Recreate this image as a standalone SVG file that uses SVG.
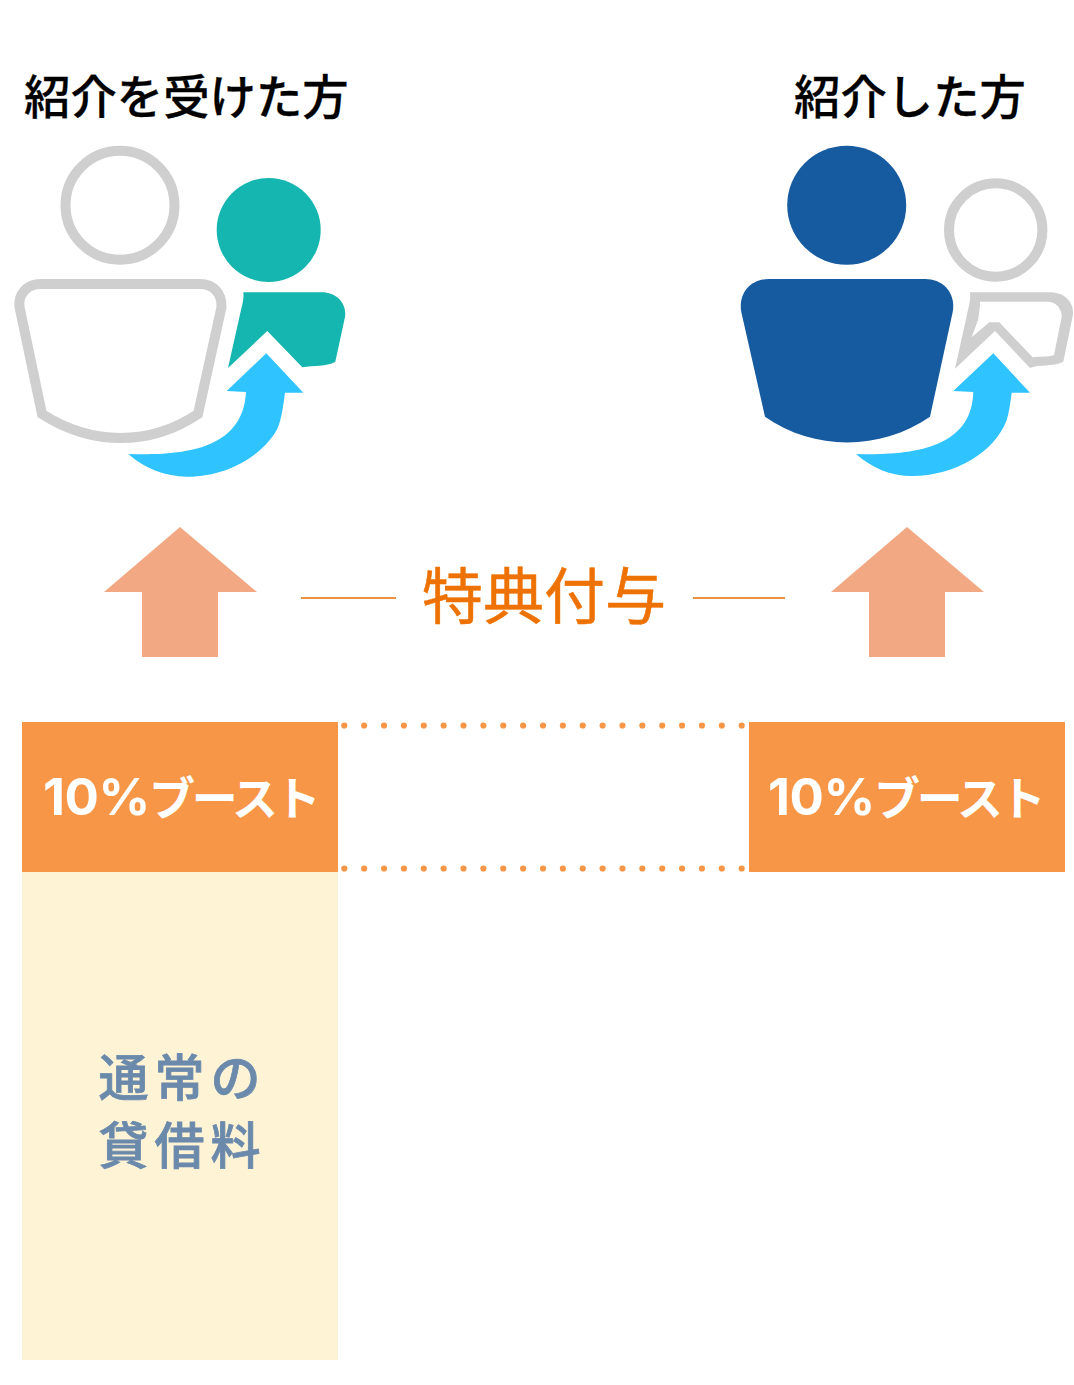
<svg xmlns="http://www.w3.org/2000/svg" width="1074" height="1385" viewBox="0 0 1074 1385">
<style>
text{font-family:"Noto Sans CJK JP","Liberation Sans",sans-serif}
.h{font-size:46.4px;font-weight:500;fill:#000;stroke:#000;stroke-width:.3px}
.b{font-size:46px;font-weight:700;fill:#fff;letter-spacing:-3.3px}
.n{font-family:Inter,"Liberation Sans",sans-serif;font-size:51px;font-weight:700;letter-spacing:-.5px}
.u{fill:#f2a983}
.c{fill:#2fc3ff}
.o{fill:none;stroke:#cfcfcf;stroke-width:10}
.d{stroke:#f79646;stroke-width:6.2;stroke-dasharray:0 19.87;stroke-linecap:round;fill:none}
.l{stroke:#e46c0a;stroke-width:1.5}
.f{font-size:50px;font-weight:500;letter-spacing:6px;fill:#6b8aab;stroke:#6b8aab;stroke-width:.8px}
</style>
<rect width="1074" height="1385" fill="#fff"/>
<g id="left-person">
<text class="h" x="24" y="114">紹介を受けた方</text>
<circle cx="120" cy="205.3" r="54.5" class="o"/>
<path class="o" d="M41 284H200C214 284 222 294 221.5 307L198 414C150 446 92 446 42 414L19.5 307C18 294 27 284 41 284Z"/>
<circle cx="268.7" cy="230" r="52" fill="#15b5b0"/>
<path fill="#15b5b0" d="M243.3 292.3H321.7C337 292.3 347 304 345 317L335.3 361.7C326 367 314 365 302.3 367.3L267.3 331L228 368L241 310C243 302 244 298 243.3 292.3Z"/>
<path class="c" d="M266.3 353.3L303.3 392.7H285C283 408 281 422 276.7 430C262 456 226 477 187 476.7C165 476 145 469 128.3 454C190 456 243 447 246 392L226.7 391Z"/>
</g>
<g id="right-person">
<text class="h" x="794" y="114">紹介した方</text>
<circle cx="846.7" cy="205.3" r="59.5" fill="#165a9f"/>
<path fill="#165a9f" d="M769 279H925C944 279 956 294 952.7 312L930 416.7C880 451 814 451 765 416.7L741.3 312C738 294 750 279 769 279Z"/>
<circle cx="995.7" cy="230" r="46.7" class="o"/>
<path fill="#cfcfcf" fill-rule="evenodd" d="M970 292.3H1050C1065 292.3 1075 303 1072.7 316L1063.3 361.7C1052 367 1040 364 1030 368L995 331L955 368.7L968 310C970 302 970.5 298 970 292.3ZM980 301.7C980 308 979 314 978 320L971.7 337.3L989.3 322.3H999.3L1032.7 357.3C1040 356 1047 357.5 1054 355L1061.7 316.7C1062 308 1055 301.7 1048 301.7Z"/>
<path class="c" d="M993.3 353.3L1030 392.7H1011.7C1010 405 1009 413 1006.7 420C995 452 955 476 912 476C890 476 872 468 856 454C920 456 972 445 973.3 392L953.3 391Z"/>
</g>
<g id="bonus-arrows">
<path class="u" d="M180 527L257 592H218V657H142V592H104Z"/>
<path class="u" d="M907 527L984 592H945V657H869V592H831Z"/>
</g>
<g id="bonus-label">
<line class="l" x1="301" y1="598" x2="396" y2="598"/>
<text x="422" y="619" font-size="61" fill="#ee7203" stroke="#ee7203" stroke-width=".5">特典付与</text>
<line class="l" x1="693" y1="598" x2="785" y2="598"/>
</g>
<g id="boost-left">
<rect x="22" y="722" width="316" height="150" fill="#f79646"/>
<text class="b" x="43" y="815"><tspan class="n">10%</tspan><tspan x="149">ブースト</tspan></text>
</g>
<g id="boost-right">
<rect x="749" y="722" width="316" height="150" fill="#f79646"/>
<text class="b" x="768" y="815"><tspan class="n">10%</tspan><tspan x="874">ブースト</tspan></text>
</g>
<g id="connectors">
<line class="d" x1="344.3" y1="725.5" x2="742.5" y2="725.5"/>
<line class="d" x1="344.3" y1="868.5" x2="742.5" y2="868.5"/>
</g>
<g id="normal-fee">
<rect x="22" y="872" width="316" height="488" fill="#fff3d6"/>
<text class="f" x="98.5" y="1096">通常の</text>
<text class="f" x="98.5" y="1164">貸借料</text>
</g>
</svg>
